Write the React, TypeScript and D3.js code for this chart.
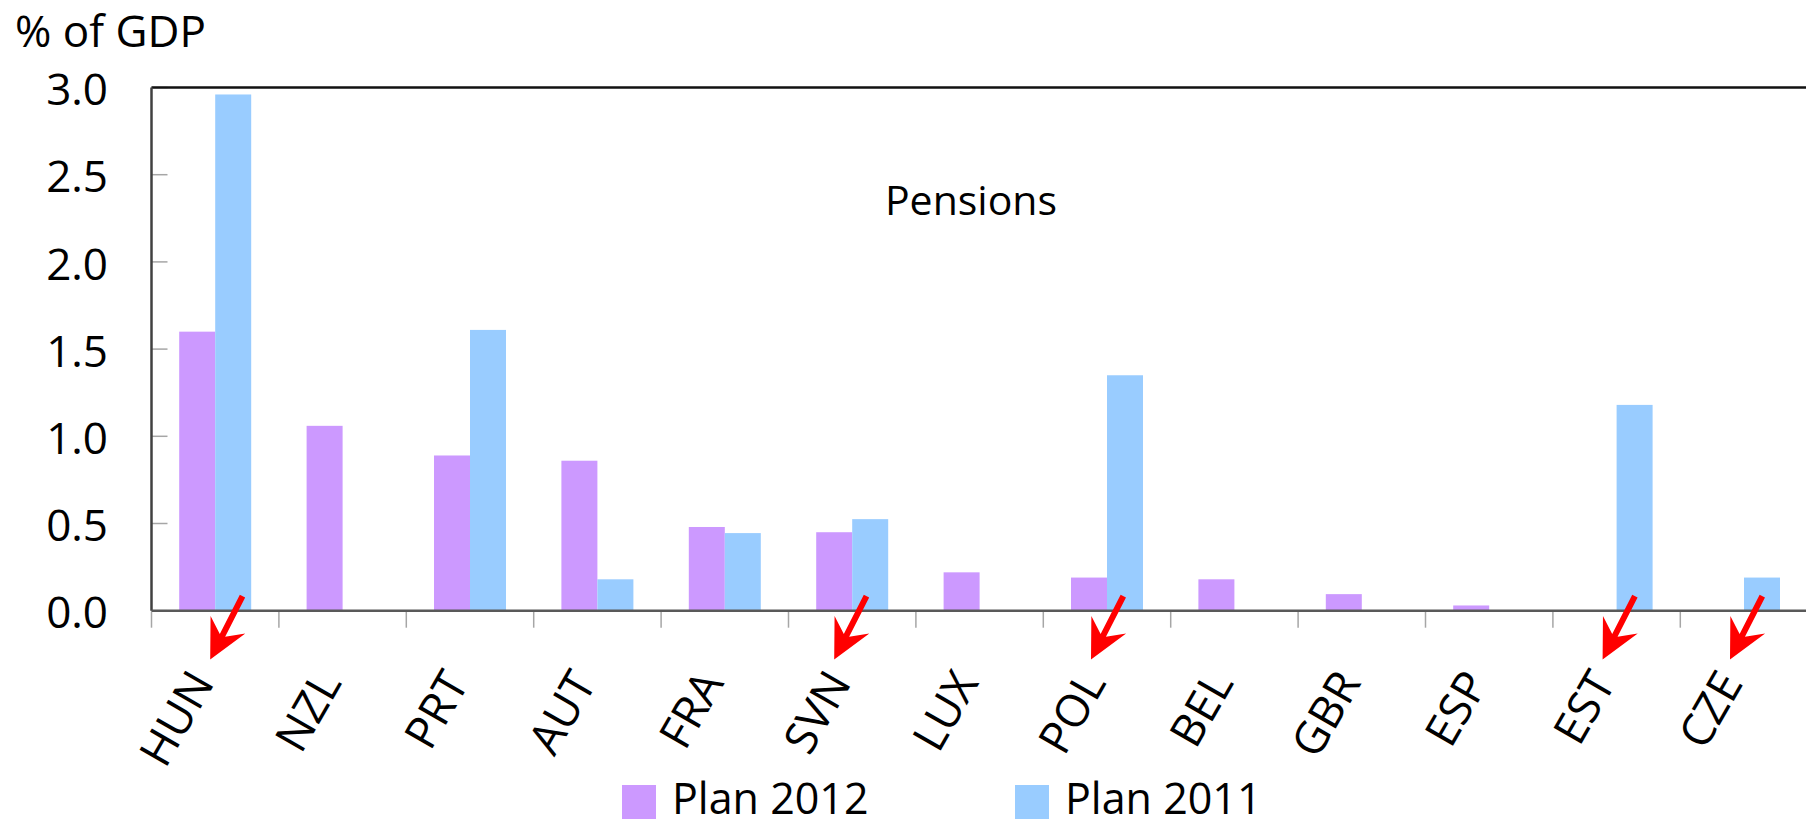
import React from "react";
import * as d3 from "d3";

const categories = ["HUN", "NZL", "PRT", "AUT", "FRA", "SVN", "LUX", "POL", "BEL", "GBR", "ESP", "EST", "CZE"];
const plan2012 = [1.6, 1.06, 0.89, 0.86, 0.48, 0.45, 0.22, 0.19, 0.18, 0.095, 0.03, 0, 0];
const plan2011 = [2.96, 0, 1.61, 0.18, 0.445, 0.525, 0, 1.35, 0, 0, 0, 1.18, 0.19];
const seriesNames = ["Plan 2012", "Plan 2011"];
const seriesColors = ["#CC99FF", "#99CCFF"];
const yTicks = [0, 0.5, 1, 1.5, 2, 2.5, 3];
const arrowCats = ["HUN", "SVN", "POL", "EST", "CZE"];
const arrowTipOffsets = [-5, -18, -16, -14, -14];

const W = 1806;
const H = 826;
const FONT = "'Open Sans', 'Noto Sans', sans-serif";

export default function App() {
  const left = 151.5;
  const right = 1807.7;
  const top = 87.5;
  const bottom = 610.7;

  const x0 = d3.scaleBand<string>().domain(categories).range([left, right]).paddingInner(0).paddingOuter(0);
  const bw = x0.bandwidth();
  const groupW = 72;
  const x1 = d3.scaleBand<string>().domain(seriesNames).range([(bw - groupW) / 2, (bw + groupW) / 2]);
  const y = d3.scaleLinear().domain([0, 3]).range([bottom, top]);

  const series = [plan2012, plan2011];

  const dir = [0.455, -0.891];
  const perp = [0.891, 0.455];
  const pt = (tx: number, ty: number, a: number, p: number) =>
    [tx + dir[0] * a + perp[0] * p, ty + dir[1] * a + perp[1] * p].join(",");
  const arrowPoly = (tx: number, ty: number) =>
    [
      pt(tx, ty, 0, 0),
      pt(tx, ty, 39, 19.5),
      pt(tx, ty, 27, 3),
      pt(tx, ty, 71, 3),
      pt(tx, ty, 71, -3),
      pt(tx, ty, 27, -3),
      pt(tx, ty, 39, -19.5),
    ].join(" ");

  return (
    <svg width={W} height={H} style={{ position: "absolute", left: 0, top: 0, background: "#fff" }} fontFamily={FONT}>
      <rect x={0} y={0} width={W} height={H} fill="#fff" />
      {categories.map((c, i) => (
        <g key={c} transform={`translate(${x0(c)},0)`}>
          {series.map((s, k) =>
            s[i] > 0 ? (
              <rect
                key={k}
                x={x1(seriesNames[k])}
                y={y(s[i])}
                width={x1.bandwidth()}
                height={y(0) - y(s[i])}
                fill={seriesColors[k]}
              />
            ) : null
          )}
        </g>
      ))}
      {yTicks.map((t) => (
        <line key={t} x1={left} x2={left + 16} y1={y(t)} y2={y(t)} stroke="#a6a6a6" strokeWidth={1.5} />
      ))}
      {categories.map((c) => (
        <line key={c} x1={x0(c)} x2={x0(c)} y1={bottom + 1} y2={bottom + 17} stroke="#a6a6a6" strokeWidth={1.5} />
      ))}
      <line x1={left} x2={W} y1={top} y2={top} stroke="#111" strokeWidth={2.5} />
      <line x1={left} x2={left} y1={top} y2={bottom} stroke="#404040" strokeWidth={2.5} />
      <line x1={left} x2={W} y1={bottom} y2={bottom} stroke="#595959" strokeWidth={2.5} />
      {yTicks.map((t) => (
        <text key={t} x={108} y={y(t) + 2 + 15.7} textAnchor="end" fontSize={44} fill="#000">
          {t.toFixed(1)}
        </text>
      ))}
      {categories.map((c) => {
        const cx = (x0(c) as number) + bw / 2;
        const cy = 683;
        return (
          <text key={c} x={cx} y={cy} textAnchor="end" fontSize={45} fill="#000" transform={`rotate(-60 ${cx} ${cy})`}>
            {c}
          </text>
        );
      })}
      {arrowCats.map((c, i) => {
        const tx = (x0(c) as number) + bw / 2 + arrowTipOffsets[i];
        const ty = 659.5;
        return <polygon key={c} points={arrowPoly(tx, ty)} fill="#FF0000" />;
      })}
      <text x={15} y={47} fontSize={44} fill="#000">% of GDP</text>
      <text x={971} y={215} fontSize={41} textAnchor="middle" fill="#000">Pensions</text>
      {seriesNames.map((n, k) => {
        const lx = k === 0 ? 622 : 1015;
        return (
          <g key={n}>
            <rect x={lx} y={785} width={34} height={34} fill={seriesColors[k]} />
            <text x={lx + 50} y={814} fontSize={43} fill="#000">{n}</text>
          </g>
        );
      })}
    </svg>
  );
}
